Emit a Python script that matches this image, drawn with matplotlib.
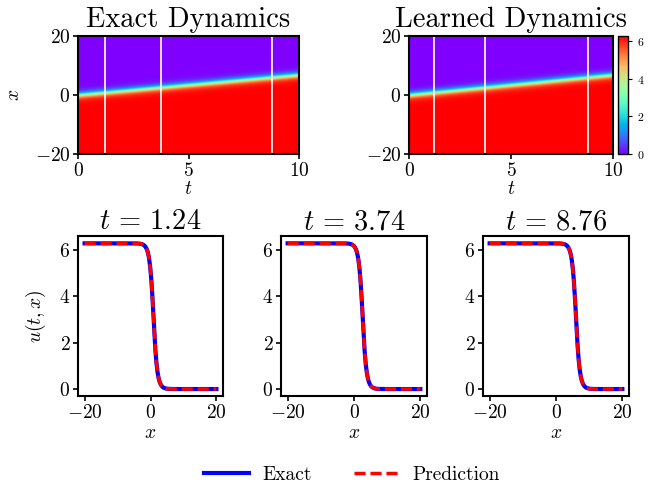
import numpy as np
import matplotlib
matplotlib.use("Agg")
import matplotlib.pyplot as plt
from matplotlib.lines import Line2D

plt.rcParams['font.family'] = 'serif'
plt.rcParams['font.serif'] = ['cmr10']
plt.rcParams['mathtext.fontset'] = 'cm'
plt.rcParams['axes.formatter.use_mathtext'] = True
plt.rcParams['axes.linewidth'] = 1.5
plt.rcParams['xtick.major.width'] = 1.2
plt.rcParams['ytick.major.width'] = 1.2

# values
t_range = [0, 10]
x_range = [-20, 20]
snap_times = [1.24, 3.74, 8.76]
kink_x0 = 0.05        # front centre at t = 0
kink_speed = 0.68     # front speed
kink_gamma = 1.36     # steepness of the front
u_max = 2 * np.pi

def kink(x, center):
    return 4 * np.arctan(np.exp(-kink_gamma * (x - center)))

t = np.linspace(t_range[0], t_range[1], 201)
x = np.linspace(x_range[0], x_range[1], 256)
T, X = np.meshgrid(t, x)
U_exact = kink(X, kink_x0 + kink_speed * T)
U_pred = U_exact.copy()

W, H = 651, 491
fig = plt.figure(figsize=(W / 100, H / 100), dpi=100)

def px_axes(l, r, top, bot):
    return fig.add_axes([l / W, 1 - bot / H, (r - l) / W, (bot - top) / H])

ax_e = px_axes(78, 299, 36, 154)
ax_l = px_axes(409, 613, 36, 154)
cax = px_axes(618, 628, 36, 154)

tick_fs = 14
lab_fs = 14
title_fs = 20.5

for ax, U, title in [(ax_e, U_exact, 'Exact Dynamics'), (ax_l, U_pred, 'Learned Dynamics')]:
    im = ax.imshow(U, extent=[t_range[0], t_range[1], x_range[0], x_range[1]],
                   origin='lower', aspect='auto', cmap='rainbow',
                   vmin=0, vmax=u_max, interpolation='bilinear')
    for ts in snap_times:
        ax.axvline(ts, color='white', lw=1.2)
    ax.set_title(title, fontsize=title_fs, pad=6.5)
    ax.set_xlabel('$t$', fontsize=lab_fs, labelpad=0)
    ax.set_xticks([0, 5, 10])
    ax.set_yticks([-20, 0, 20])
    ax.tick_params(labelsize=tick_fs, pad=2)
ax_e.set_ylabel('$x$', fontsize=lab_fs, labelpad=8)

cb = fig.colorbar(im, cax=cax)
cb.set_ticks([0, 2, 4, 6])
cb.ax.tick_params(labelsize=8.5, width=0.8, length=3)
cb.outline.set_linewidth(1.0)

bottom_axes = [px_axes(78, 223, 236, 396), px_axes(281, 427, 236, 396), px_axes(483, 629, 236, 396)]
for ax, ts in zip(bottom_axes, snap_times):
    c = kink_x0 + kink_speed * ts
    ax.plot(x, kink(x, c), color='blue', lw=3)
    ax.plot(x, kink(x, c), color='red', lw=2.5, ls='--', dashes=(3.2, 1.4))
    ax.set_title(r'$t\,=\,%.2f$' % ts, fontsize=title_fs, pad=5)
    ax.set_xlabel('$x$', fontsize=lab_fs, labelpad=2)
    ax.set_xticks([-20, 0, 20])
    ax.set_yticks([0, 2, 4, 6])
    ax.set_xlim(-22, 22)
    ax.set_ylim(-0.3, 6.6)
    ax.tick_params(labelsize=tick_fs, pad=2)
bottom_axes[0].set_ylabel('$u(t,x)$', fontsize=lab_fs, labelpad=8)

handles = [Line2D([], [], color='blue', lw=3),
           Line2D([], [], color='red', lw=2.5, ls='--', dashes=(3.2, 1.4))]
fig.legend(handles, ['Exact', 'Prediction'], ncol=2, frameon=False,
           loc='center', bbox_to_anchor=(352 / W, 1 - 475 / H), fontsize=14,
           columnspacing=2.2, handlelength=2.3, handletextpad=0.7)

fig.savefig('out.png', dpi=100)
